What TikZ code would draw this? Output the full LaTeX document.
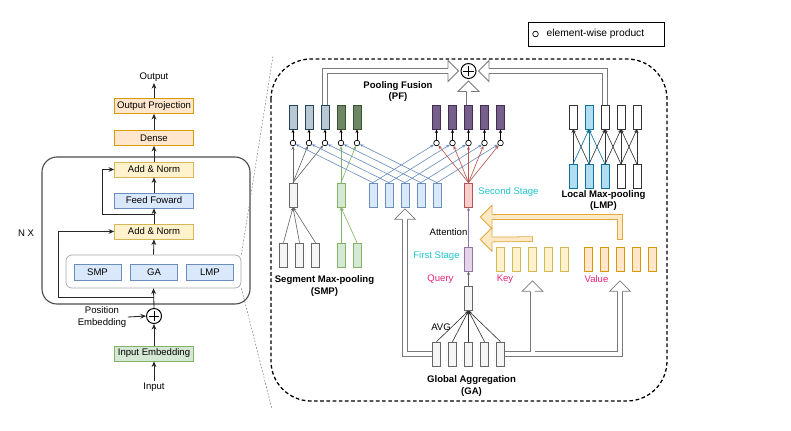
\documentclass[tikz,border=0pt]{standalone}
\usepackage{fontspec}
\setmainfont{Liberation Sans}
\usetikzlibrary{arrows.meta,calc,backgrounds}

\definecolor{slatefill}{HTML}{BAC8D3}  \definecolor{slateline}{HTML}{23445D}
\definecolor{olivefill}{HTML}{6D8764}  \definecolor{oliveline}{HTML}{3A5431}
\definecolor{plumfill}{HTML}{76608A}   \definecolor{plumline}{HTML}{432D57}
\definecolor{greyfill}{HTML}{F5F5F5}   \definecolor{greyline}{HTML}{666666}
\definecolor{greenfill}{HTML}{D5E8D4}  \definecolor{greenline}{HTML}{82B366}
\definecolor{bluefill}{HTML}{DAE8FC}   \definecolor{blueline}{HTML}{6C8EBF}
\definecolor{redfill}{HTML}{F8CECC}    \definecolor{redline}{HTML}{B85450}
\definecolor{lilacfill}{HTML}{E1D5E7}  \definecolor{lilacline}{HTML}{9673A6}
\definecolor{yellowfill}{HTML}{FFF2CC} \definecolor{yellowline}{HTML}{D6B656}
\definecolor{orangefill}{HTML}{FFE6CC} \definecolor{orangeline}{HTML}{D79B00}
\definecolor{cyanfill}{HTML}{B1DDF0}   \definecolor{cyanline}{HTML}{10739E}
\definecolor{stagecyan}{HTML}{1BC5D0}
\definecolor{rolepink}{HTML}{E8227A}
\definecolor{flexline}{HTML}{7A7A7A}
\definecolor{amberfill}{HTML}{FFE9C4}  \definecolor{amberline}{HTML}{E0A840}

\tikzset{
    flexhead/.pic={
        \fill[pic actions, draw=none] (0,-10.5) -- (10.5,0) -- (0,10.5) -- cycle;
        \draw[pic actions, fill=none] (0,2.35) -- (0,10.5) -- (10.5,0) -- (0,-10.5) -- (0,-2.35);
    }
}

\begin{document}
\begin{tikzpicture}[x=0.25mm, y=-0.25mm,
        lbl/.style={inner sep=1pt, font=\fontsize{6.8}{8}\selectfont},
        heading/.style={inner sep=1pt, align=center, font=\fontsize{6.8}{8}\selectfont\bfseries},
        block/.style={draw, line width=0.5pt, minimum width=19.75mm, minimum height=3.75mm, inner sep=1pt, font=\fontsize{6.8}{8}\selectfont},
        outbox/.style={block, fill=orangefill, draw=orangeline},
        normbox/.style={block, fill=yellowfill, draw=yellowline},
        ffbox/.style={block, fill=bluefill, draw=blueline},
        embbox/.style={block, fill=greenfill, draw=greenline},
        modbox/.style={block, minimum width=11.75mm, minimum height=4mm, fill=bluefill, draw=blueline},
        addop/.style={circle, draw, line width=0.7pt, minimum size=3.75mm, inner sep=0pt,
            path picture={\draw[line width=0.7pt] ([yshift=-0.6mm]path picture bounding box.north) -- ([yshift=0.6mm]path picture bounding box.south)
                ([xshift=0.6mm]path picture bounding box.west) -- ([xshift=-0.6mm]path picture bounding box.east);}},
        prod/.style={circle, draw, line width=0.5pt, fill=white, minimum size=1.4mm, inner sep=0pt},
        bar/.style={draw, line width=0.5pt, minimum width=2mm, minimum height=6mm, inner sep=0pt},
        slate/.style={bar, fill=slatefill, draw=slateline},
        olive/.style={bar, fill=olivefill, draw=oliveline},
        plum/.style={bar, fill=plumfill, draw=plumline},
        grey/.style={bar, fill=greyfill, draw=greyline},
        leaf/.style={bar, fill=greenfill, draw=greenline},
        sky/.style={bar, fill=bluefill, draw=blueline},
        rose/.style={bar, fill=redfill, draw=redline},
        lilac/.style={bar, fill=lilacfill, draw=lilacline},
        keybar/.style={bar, fill=yellowfill, draw=yellowline},
        valbar/.style={bar, fill=orangefill, draw=orangeline},
        teal/.style={bar, fill=cyanfill, draw=cyanline},
        blank/.style={bar, fill=white, draw=black!80},
        arr/.style={-{Stealth[length=4pt, width=3.4pt]}, line width=0.6pt, draw=black!85},
        tiny/.style={-{Stealth[length=2.6pt, width=2.2pt]}, line width=0.45pt},
        flexgrey/.style={draw=flexline, double=white, double distance=1mm, line width=0.55pt, line cap=rect},
        flexamber/.style={draw=amberline, double=amberfill, double distance=1mm, line width=0.55pt, line cap=rect},
        greyhead/.style={draw=flexline, fill=white, line width=0.55pt},
        amberhead/.style={draw=amberline, fill=amberfill, line width=0.55pt, scale=1.12},
        panel/.style={draw, line width=0.9pt, dash pattern=on 2.6pt off 1.8pt, rounded corners=10mm},
        zoomline/.style={draw=gray, line width=0.4pt, dash pattern=on 1.2pt off 1.2pt}
    ]
    \useasboundingbox (0,0) rectangle (791,430);

    % encoder stack
    \node[draw=black!70, line width=0.8pt, rounded corners=3.75mm, minimum width=52mm, minimum height=36.75mm] (stack) at (146,230.5) {};
    \node[draw=black!35, line width=0.5pt, rounded corners=1.5mm, minimum width=43.75mm, minimum height=8.25mm] (inner) at (153.5,271.5) {};

    \node[lbl] (output) at (154,77) {Output};
    \node[outbox] (proj) at (154,106) {Output Projection};
    \node[outbox] (dense) at (154,138) {Dense};
    \node[normbox] (add2) at (154,169.5) {Add \& Norm};
    \node[ffbox] (ff) at (154,200.5) {Feed Foward};
    \node[normbox] (add1) at (154,231.5) {Add \& Norm};
    \node[modbox] (smp) at (97.5,272) {SMP};
    \node[modbox] (ga) at (154,272) {GA};
    \node[modbox] (lmp) at (210,272) {LMP};
    \node[addop] (add) at (154,316) {};
    \node[lbl, align=center] (posemb) at (102,317) {Position\\Embedding};
    \node[embbox] (inemb) at (154,353.5) {Input Embedding};
    \node[lbl] (input) at (154,387) {Input};
    \node[lbl] (nx) at (26,233) {N X};

    \draw[arr] (input.north) -- (inemb.south);
    \draw[arr] (inemb.north) -- (add.south);
    \draw[arr] (posemb.east) -- (add.west);
    \draw[arr] (add.north) -- (inner.south);
    \draw[arr] (inner.north) -- (add1.south);
    \draw[arr] (add1.north) -- (ff.south);
    \draw[arr] (ff.north) -- (add2.south);
    \draw[arr] (add2.north) -- (dense.south);
    \draw[arr] (dense.north) -- (proj.south);
    \draw[arr] (proj.north) -- (output.south);

    \coordinate (res1) at (154,214);
    \coordinate (res2) at (154,297);
    \draw[arr] (res1) -- ++(-52,0) |- (add2.west);
    \draw[arr] (res2) -- ++(-96,0) |- (add1.west);

    % zoomed-in panel
    \coordinate (zoomtop) at (273,56);
    \coordinate (zoombot) at (272,409);
    \draw[zoomline] (inner.north east) -- (zoomtop);
    \draw[zoomline] (inner.south east) -- (zoombot);
    \draw[panel] (271,59) rectangle (667,401);

    \node[draw, line width=0.5pt, minimum width=34mm, minimum height=6mm] (legend) at (596,34) {};
    \node[prod] (legdot) at (535.5,34) {};
    \node[lbl, anchor=west, font=\fontsize{7.3}{8}\selectfont] (legtext) at (545,34) {element-wise product};

    % pooling fusion
    \node[addop] (fuse) at (468.5,71) {};
    \foreach \i in {0,1,2} \node[slate] (pfl\i) at (293+16*\i,117) {};
    \foreach \i in {3,4} \node[olive] (pfl\i) at (293+16*\i,117) {};
    \foreach \i in {0,...,4} \node[plum] (pfr\i) at (436.5+16*\i,117) {};
    \foreach \i in {0,...,4} \node[prod] (mull\i) at (293+16*\i,143) {};
    \foreach \i in {0,...,4} \node[prod] (mulr\i) at (436.5+16*\i,143) {};
    \node[heading] (pftext) at (398,91.5) {Pooling Fusion\\(PF)};

    % segment max-pooling
    \node[grey] (smpg) at (293,195) {};
    \node[leaf] (smpv) at (341,195) {};
    \foreach \i in {0,1,2} \node[grey] (smpin\i) at (283.5+16*\i,255) {};
    \node[leaf] (smpin3) at (341,255) {};
    \node[leaf] (smpin4) at (357,255) {};
    \node[heading] (smptext) at (324.5,286) {Segment Max-pooling\\(SMP)};

    % global aggregation
    \foreach \i in {0,...,4} \node[sky] (gaout\i) at (373+16*\i,195) {};
    \node[rose] (second) at (468.5,195) {};
    \node[lilac] (query) at (468.5,259) {};
    \node[grey] (avg) at (468.5,298.5) {};
    \foreach \i in {0,...,4} \node[grey] (gain\i) at (436.5+16*\i,354) {};
    \foreach \i in {0,...,4} \node[keybar] (key\i) at (500.5+16*\i,259) {};
    \foreach \i in {0,...,4} \node[valbar] (val\i) at (588+16*\i,259) {};
    \node[heading] (gatext) at (471.5,386) {Global Aggregation\\(GA)};
    \node[lbl] (avgtext) at (441,327) {AVG};
    \node[lbl] (atttext) at (448.5,232) {Attention};
    \node[lbl, text=stagecyan] (firsttext) at (436.5,256) {First Stage};
    \node[lbl, text=stagecyan] (secondtext) at (508.5,192) {Second Stage};
    \node[lbl, text=rolepink] (querytext) at (440.5,279) {Query};
    \node[lbl, text=rolepink] (keytext) at (505,279) {Key};
    \node[lbl, text=rolepink] (valtext) at (596.5,279) {Value};

    % local max-pooling
    \node[blank] (lmpout0) at (573,117) {};
    \node[teal] (lmpout1) at (589,117) {};
    \foreach \i in {2,3,4} \node[blank] (lmpout\i) at (573+16*\i,117) {};
    \foreach \i in {0,1,2} \node[teal] (lmpin\i) at (573+16*\i,176.5) {};
    \foreach \i in {3,4} \node[blank] (lmpin\i) at (573+16*\i,176.5) {};
    \node[heading] (lmptext) at (603.5,200.5) {Local Max-pooling\\(LMP)};

    % thin connectors
    \foreach \i in {0,...,4} \draw[tiny] (mull\i) -- (pfl\i.south);
    \foreach \i in {0,...,4} \draw[tiny] (mulr\i) -- (pfr\i.south);
    \foreach \i in {0,1,2} \draw[tiny, greyline] (smpg.north) -- (mull\i);
    \foreach \i in {3,4} \draw[tiny, greenline] (smpv.north) -- (mull\i);
    \foreach \i in {0,...,4} \draw[tiny, blueline] (gaout\i.north) -- (mull\i);
    \foreach \i in {0,...,4} \draw[tiny, blueline] (gaout\i.north) -- (mulr\i);
    \foreach \i in {0,...,4} \draw[tiny, redline] (second.north) -- (mulr\i);
    \foreach \i in {0,1,2} \draw[tiny, greyline] (smpin\i.north) -- (smpg.south);
    \foreach \i in {3,4} \draw[tiny, greenline] (smpin\i.north) -- (smpv.south);
    \foreach \i in {0,...,4} \draw[tiny, black!80] (gain\i.north) -- (avg.south);
    \draw[tiny, greyline] (avg.north) -- (query.south);
    \draw[tiny, lilacline] (query.north) -- (second.south);
    \foreach \o/\n in {0/0,0/1,2/1,2/2,2/3,3/2,3/3,3/4,4/3,4/4}
        \draw[tiny, black!80] (lmpin\n.north) -- (lmpout\o.south);
    \foreach \n in {0,1,2} \draw[tiny, cyanline] (lmpin\n.north) -- (lmpout1.south);

    % flex arrows
    \coordinate (b1) at ($(fuse.west)+(-12.5,0)$);
    \coordinate (b2) at ($(fuse.east)+(12.5,0)$);
    \coordinate (b3) at ($(fuse.south)+(0,12.5)$);
    \coordinate (b4) at ($(gaout2.south)+(0,12)$);
    \coordinate (b5v) at ($(val2.south)+(0,20)$);
    \coordinate (b5k) at ($(key2.south)+(0,20)$);
    \coordinate (s6) at ($(val2.north)+(0,-9.5)$);
    \coordinate (b6) at (492,217);
    \coordinate (s7) at ($(key2.north)+(-2.5,-7.5)$);
    \coordinate (b7) at (492,239.5);
    \begin{scope}[on background layer]
        \draw[flexgrey] (pfl2.north) |- (b1);
        \draw[flexgrey] (lmpout2.north) |- (b2);
        \draw[flexgrey] (pfr2.north) -- (b3);
        \draw[flexgrey] (gain0.west) -| (b4);
        \draw[flexgrey] (gain4.east) -| (b5v) (gain4.east -| b5k) -- (b5k);
        \draw[flexamber] (s6) |- (b6);
        \draw[flexamber] (s7) -- (b7);
        \pic[greyhead] at (b1) {flexhead};
        \pic[greyhead, rotate=180] at (b2) {flexhead};
        \pic[greyhead, rotate=90] at (b3) {flexhead};
        \pic[greyhead, rotate=90] at (b4) {flexhead};
        \pic[greyhead, rotate=90] at (b5v) {flexhead};
        \pic[greyhead, rotate=90] at (b5k) {flexhead};
        \pic[amberhead, rotate=180] at (b6) {flexhead};
        \pic[amberhead, rotate=180] at (b7) {flexhead};
    \end{scope}
\end{tikzpicture}
\end{document}
